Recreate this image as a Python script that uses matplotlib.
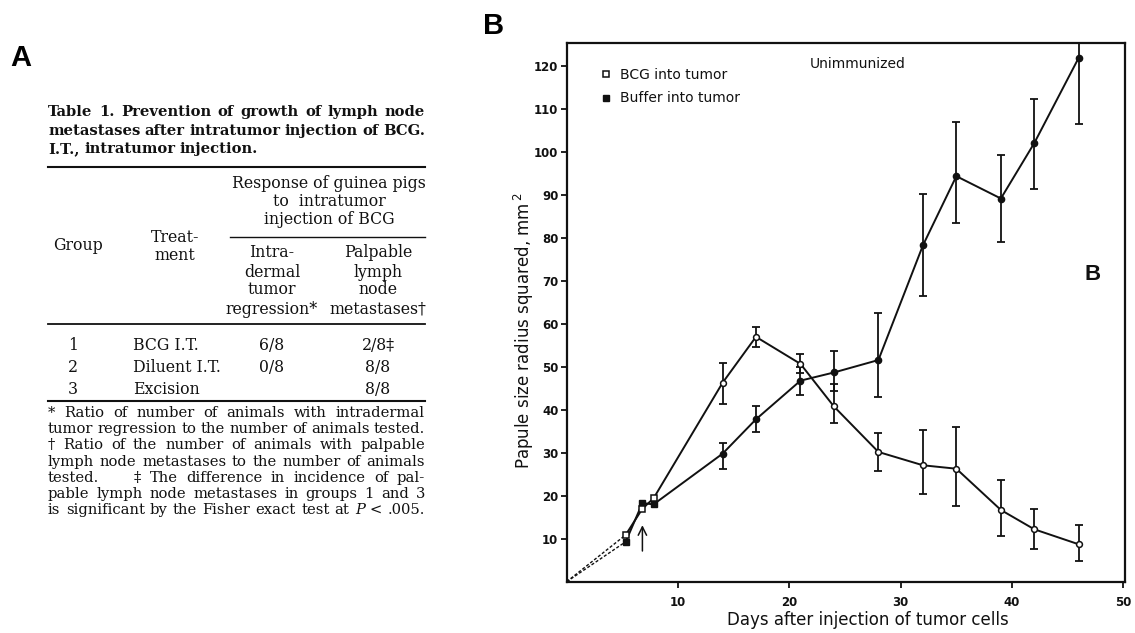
import numpy as np
import matplotlib
matplotlib.use("Agg")
import matplotlib.pyplot as plt

W, H = 1135, 633

# ---------------- data ----------------
days = [5.3, 6.8, 7.8, 14, 17, 21, 24, 28, 32, 35, 39, 42, 46]
bcg_mean = [10.9, 17.0, 19.4, 46.3, 57.0, 50.7, 40.8, 30.2, 27.1, 26.3, 16.7, 12.2, 8.7]
bcg_hi = [np.nan, np.nan, np.nan, 50.8, 59.2, 52.9, 46.1, 34.5, 35.4, 35.9, 23.7, 16.9, 13.2]
bcg_lo = [np.nan, np.nan, np.nan, 41.3, 54.6, 48.6, 36.9, 25.8, 20.5, 17.7, 10.6, 7.7, 4.8]
buf_mean = [9.3, 18.3, 18.0, 29.8, 37.8, 46.8, 48.7, 51.6, 78.3, 94.4, 89.2, 102.1, 122.0]
buf_hi = [np.nan, np.nan, np.nan, 32.4, 41.0, 50.0, 53.6, 62.6, 90.3, 107.1, 99.4, 112.3, 125.7]
buf_lo = [np.nan, np.nan, np.nan, 26.3, 34.8, 43.4, 44.5, 42.9, 66.5, 83.4, 79.0, 91.5, 106.5]
origin = (0, 0)
injection_day = 6.8
n_early = 3

x_ticks = [10, 20, 30, 40, 50]
y_ticks = [10, 20, 30, 40, 50, 60, 70, 80, 90, 100, 110, 120]

caption = ["Table 1. Prevention of growth of lymph node",
           "metastases after intratumor injection of BCG.",
           "I.T., intratumor injection."]
groups = ["1", "2", "3"]
treatments = ["BCG I.T.", "Diluent I.T.", "Excision"]
regression = ["6/8", "0/8", ""]
metastases = ["2/8\u2021", "8/8", "8/8"]
footnotes = ["* Ratio of number of animals with intradermal",
             "tumor regression to the number of animals tested.",
             "\u2020 Ratio of the number of animals with palpable",
             "lymph node metastases to the number of animals",
             "\u2021 The difference in incidence of pal-",
             "pable lymph node metastases in groups 1 and 3",
             "is significant by the Fisher exact test at P < .005."]

# ---------------- figure ----------------
fig = plt.figure(figsize=(W / 100, H / 100), dpi=100)
fig.patch.set_facecolor("white")
renderer = fig.canvas.get_renderer()

def P(x, y):
    return x / W, 1 - y / H

SERIF = "DejaVu Serif"
SANS = "DejaVu Sans"
INK = "#111111"

def justify(words, x0, x1, y, size, weight="normal", italic_words=(), min_gap=None):
    items = []
    for w in words:
        t = fig.text(*P(x0, y), w, fontsize=size, family=SERIF, weight=weight,
                     style="italic" if w in italic_words else "normal",
                     va="center", ha="left", color=INK)
        items.append(t)
    widths = [t.get_window_extent(renderer).width for t in items]
    gap = (x1 - x0 - sum(widths)) / max(len(items) - 1, 1)
    if min_gap is not None:
        gap = max(gap, min_gap)
    x = x0
    for t, w in zip(items, widths):
        t.set_position(P(x, y))
        x += w + gap

# panel labels
fig.text(*P(21, 58), "A", fontsize=21, weight="bold", family="Liberation Sans",
         ha="center", va="center", color="black")
fig.text(*P(494, 26), "B", fontsize=21, weight="bold", family="Liberation Sans",
         ha="center", va="center", color="black")

# ---------------- table (panel A) ----------------
TL, TR = 48, 425
cap_y = [112, 131, 149]
cap_fs = 10.6
justify(caption[0].split(), TL, TR, cap_y[0], cap_fs, weight="bold", min_gap=4)
justify(caption[1].split(), TL, TR, cap_y[1], cap_fs, weight="bold", min_gap=4)
justify(caption[2].split(), TL, 258, cap_y[2], cap_fs, weight="bold", min_gap=4)

def hrule(y, x0=TL, x1=TR, lw=1.3):
    fig.add_artist(plt.Line2D([x0 / W, x1 / W], [1 - y / H, 1 - y / H],
                              color=INK, lw=lw))

hrule(167, lw=1.5)
hrule(237, x0=230, lw=1.0)
hrule(324, lw=1.3)
hrule(401, lw=1.5)

body = 11.3
for txt, yy in zip(["Response of guinea pigs", "to  intratumor", "injection of BCG"],
                   [184, 202, 220]):
    fig.text(*P(329, yy), txt, fontsize=body, family=SERIF, ha="center",
             va="center", color=INK)
fig.text(*P(78, 246), "Group", fontsize=body, family=SERIF, ha="center",
         va="center", color=INK)
fig.text(*P(175, 237), "Treat-", fontsize=body, family=SERIF, ha="center",
         va="center", color=INK)
fig.text(*P(175, 255), "ment", fontsize=body, family=SERIF, ha="center",
         va="center", color=INK)
for txt, yy in zip(["Intra-", "dermal", "tumor", "regression*"], [253, 272, 290, 309]):
    fig.text(*P(272, yy), txt, fontsize=body, family=SERIF, ha="center",
             va="center", color=INK)
for txt, yy in zip(["Palpable", "lymph", "node", "metastases\u2020"], [253, 272, 290, 309]):
    fig.text(*P(378, yy), txt, fontsize=body, family=SERIF, ha="center",
             va="center", color=INK)

row_y = [346, 368, 390]
for g, tr, rg, mt, yy in zip(groups, treatments, regression, metastases, row_y):
    fig.text(*P(73, yy), g, fontsize=body, family=SERIF, ha="center", va="center", color=INK)
    fig.text(*P(133, yy), tr, fontsize=body, family=SERIF, ha="left", va="center", color=INK)
    fig.text(*P(272, yy), rg, fontsize=body, family=SERIF, ha="center", va="center", color=INK)
    fig.text(*P(378, yy), mt, fontsize=body, family=SERIF, ha="center", va="center", color=INK)

fn = 10.6
fy = [413 + 16.2 * i for i in range(7)]
justify(footnotes[0].split(), TL, TR, fy[0], fn)
justify(footnotes[1].split(), TL, TR, fy[1], fn)
justify(footnotes[2].split(), TL, TR, fy[2], fn)
justify(footnotes[3].split(), TL, TR, fy[3], fn)
fig.text(*P(TL, fy[4]), "tested.", fontsize=fn, family=SERIF, va="center",
         ha="left", color=INK)
justify(footnotes[4].split(), 134, TR, fy[4], fn)
justify(footnotes[5].split(), TL, TR, fy[5], fn)
justify(footnotes[6].split(), TL, TR, fy[6], fn, italic_words=("P",))

# ---------------- chart (panel B) ----------------
ax_l, ax_r, ax_b, ax_t = 566.7, 1125, 581.7, 43
ax = fig.add_axes([ax_l / W, 1 - ax_b / H, (ax_r - ax_l) / W, (ax_b - ax_t) / H])
ax.set_xlim(0, 50.15)
ax.set_ylim(0, 125.4)
for s in ax.spines.values():
    s.set_linewidth(1.6)
    s.set_color(INK)
ax.set_xticks(x_ticks)
ax.set_yticks(y_ticks)
ax.tick_params(direction="out", length=4, width=1.3, colors=INK, labelsize=8.5,
               pad=2)
for lab in ax.get_xticklabels() + ax.get_yticklabels():
    lab.set_fontweight("bold")
    lab.set_family(SANS)
ax.tick_params(axis="x", pad=6)

lw = 1.4
d = np.array(days)
bm, bh, bl = np.array(bcg_mean), np.array(bcg_hi), np.array(bcg_lo)
fm, fh, fl = np.array(buf_mean), np.array(buf_hi), np.array(buf_lo)

# dashed lines from the origin to the first measurements
ax.plot([origin[0], d[0]], [origin[1], bm[0]], ls=(0, (2.2, 1.4)), color=INK, lw=1.0)
ax.plot([origin[0], d[0]], [origin[1], fm[0]], ls=(0, (2.2, 1.4)), color=INK, lw=1.0)
ax.plot([origin[0]], [origin[1]], "o", ms=3, color=INK)

# error bars
for m, hi, lo in [(bm, bh, bl), (fm, fh, fl)]:
    ok = ~np.isnan(hi)
    ax.errorbar(d[ok], m[ok], yerr=[m[ok] - lo[ok], hi[ok] - m[ok]], fmt="none",
                ecolor=INK, elinewidth=1.3, capsize=3.2, capthick=1.3)

# lines
ax.plot(d, bm, "-", color=INK, lw=lw)
ax.plot(d, fm, "-", color=INK, lw=lw)

# markers
h_bcg, = ax.plot(d[:n_early], bm[:n_early], "s", ms=4.5, mfc="white", mec=INK,
                 mew=1.1, label="BCG into tumor", zorder=5)
ax.plot(d[n_early:], bm[n_early:], "o", ms=4.2, mfc="white", mec=INK, mew=1.1,
        zorder=5)
h_buf, = ax.plot(d[:n_early], fm[:n_early], "s", ms=5, color=INK,
                 label="Buffer into tumor", zorder=4)
ax.plot(d[n_early:], fm[n_early:], "o", ms=4.5, color=INK, zorder=4)

# injection arrow
ax.annotate("", xy=(injection_day, 13.8), xytext=(injection_day, 6.5),
            arrowprops=dict(arrowstyle="->,head_length=0.6,head_width=0.3",
                            lw=1.1, color=INK))

leg = ax.legend(handles=[h_bcg, h_buf], loc="upper left",
                bbox_to_anchor=(0.045, 0.967), frameon=False, handlelength=1.0,
                handletextpad=0.5, labelspacing=0.7, borderpad=0,
                prop={"family": SANS, "size": 10})
for t in leg.get_texts():
    t.set_color(INK)

ax.text(21.8, 120.6, "Unimmunized", fontsize=10, family=SANS, ha="left",
        va="center", color=INK)
ax.text(47.2, 71.6, "B", fontsize=16, family="Liberation Sans", weight="bold",
        ha="center", va="center", color=INK)

fig.text(*P(868, 620), "Days after injection of tumor cells", fontsize=12,
         family=SANS, ha="center", va="center", color=INK)
fig.text(*P(524, 331), "Papule size radius squared, mm$^{\\,2}$", fontsize=12,
         family=SANS, rotation=90, ha="center", va="center", color=INK)

fig.savefig("out.png", dpi=100, facecolor="white")
